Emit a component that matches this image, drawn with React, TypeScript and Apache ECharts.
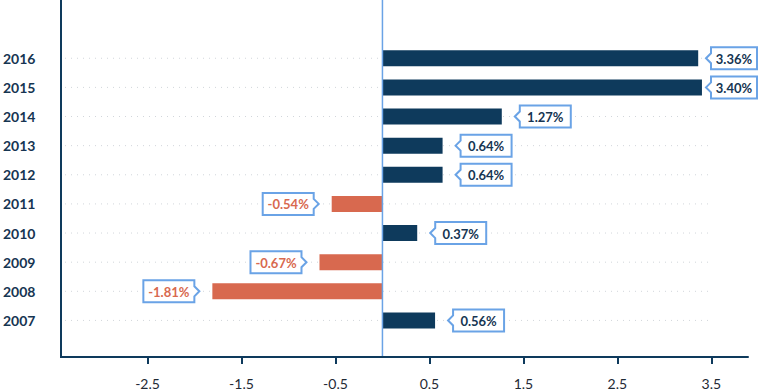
import React, { useEffect, useRef } from 'react';
import * as echarts from 'echarts';

const years = ['2007', '2008', '2009', '2010', '2011', '2012', '2013', '2014', '2015', '2016'];
const values = [0.56, -1.81, -0.67, 0.37, -0.54, 0.64, 0.64, 1.27, 3.40, 3.36];
const tickValues = [-2.5, -1.5, -0.5, 0.5, 1.5, 2.5, 3.5];
const axisMin = -3.41;
const axisMax = 3.89;
const gridLineEnd = 3.5;

const NAVY = '#0e3a5c';
const CORAL = '#d8694f';
const BLUE = '#6aa3e6';
const FONT = 'Lato, sans-serif';

export default function App() {
  const ref = useRef<HTMLDivElement>(null);

  useEffect(() => {
    if (!ref.current) return;
    const chart = echarts.init(ref.current, undefined, { renderer: 'svg' });

    const option: any = {
      animation: false,
      grid: { left: 62, right: 15, top: 43.7, bottom: 54.8, containLabel: false },
      xAxis: {
        type: 'value',
        min: axisMin,
        max: axisMax,
        position: 'bottom',
        offset: 22,
        splitLine: { show: false },
        axisLine: { show: true, onZero: false, lineStyle: { color: NAVY, width: 2 } },
        axisTick: { show: true, customValues: tickValues, length: 7, lineStyle: { color: NAVY, width: 2 } },
        axisLabel: {
          customValues: tickValues,
          margin: 19,
          fontSize: 14,
          fontFamily: FONT,
          color: '#1f2a35',
          formatter: (v: number) => String(v),
        },
      },
      yAxis: {
        type: 'category',
        data: years,
        axisLine: { show: false },
        axisTick: { show: false },
        splitLine: { show: false },
        axisLabel: {
          align: 'left',
          margin: 59,
          fontSize: 14,
          fontWeight: 'bold',
          fontFamily: FONT,
          color: '#163552',
        },
      },
      series: [
        {
          type: 'custom',
          name: 'grid',
          z: 1,
          silent: true,
          encode: { x: 0, y: 1 },
          data: years.map((_, i) => [axisMin, i]),
          renderItem: (params: any, api: any) => {
            const idx = api.value(1);
            const a = api.coord([axisMin, idx]);
            const b = api.coord([gridLineEnd, idx]);
            return {
              type: 'line',
              shape: { x1: a[0] + 3, y1: a[1], x2: b[0], y2: b[1] },
              style: { stroke: '#d2d6db', lineWidth: 1, lineDash: [1, 5] },
            };
          },
        },
        {
          type: 'bar',
          z: 2,
          barWidth: 16,
          data: values.map((v) => ({ value: v, itemStyle: { color: v < 0 ? CORAL : NAVY } })),
        },
        {
          type: 'custom',
          name: 'labels',
          z: 5,
          silent: true,
          clip: false,
          encode: { x: 0, y: 1 },
          data: values.map((v, i) => [v, i]),
          renderItem: (params: any, api: any) => {
            const v = api.value(0);
            const idx = api.value(1);
            const p = api.coord([v, idx]);
            const gap = 13;
            const arrow = 5;
            const h = 22;
            let w = 51;
            const cy = p[1];
            const top = cy - h / 2;
            const bottom = cy + h / 2;
            let points: number[][];
            let boxL: number;
            if (v >= 0) {
              boxL = p[0] + gap + arrow;
              const limit = 757;
              if (boxL + w > limit) {
                w = Math.max(46, limit - boxL);
                boxL = limit - w;
              }
              const tip = boxL - arrow;
              points = [
                [tip, cy], [boxL, cy - 5], [boxL, top], [boxL + w, top],
                [boxL + w, bottom], [boxL, bottom], [boxL, cy + 5],
              ];
            } else {
              const boxR = p[0] - gap - arrow;
              boxL = boxR - w;
              const tip = boxR + arrow;
              points = [
                [tip, cy], [boxR, cy - 5], [boxR, top], [boxL, top],
                [boxL, bottom], [boxR, bottom], [boxR, cy + 5],
              ];
            }
            return {
              type: 'group',
              children: [
                {
                  type: 'polygon',
                  shape: { points },
                  style: { fill: '#ffffff', stroke: BLUE, lineWidth: 2 },
                },
                {
                  type: 'text',
                  style: {
                    x: boxL + w / 2,
                    y: cy + 0.5,
                    text: v.toFixed(2) + '%',
                    align: 'center',
                    verticalAlign: 'middle',
                    fontSize: 13,
                    fontWeight: 'bold',
                    fontFamily: FONT,
                    fill: v < 0 ? CORAL : '#163552',
                  },
                },
              ],
            };
          },
        },
      ],
    };

    chart.setOption(option);

    const zeroX = chart.convertToPixel({ xAxisIndex: 0 }, 0) as number;
    const leftX = chart.convertToPixel({ xAxisIndex: 0 }, axisMin) as number;
    const axisY = 357;
    chart.setOption({
      graphic: [
        {
          type: 'line',
          z: 10,
          silent: true,
          shape: { x1: leftX - 1, y1: 0, x2: leftX - 1, y2: axisY + 1 },
          style: { stroke: NAVY, lineWidth: 2 },
        },
        {
          type: 'line',
          z: 10,
          silent: true,
          shape: { x1: zeroX, y1: 0, x2: zeroX, y2: axisY - 1 },
          style: { stroke: BLUE, lineWidth: 1.5 },
        },
      ],
    });

    return () => chart.dispose();
  }, []);

  return <div ref={ref} style={{ width: 763, height: 390, position: 'absolute', left: 0, top: 0 }} />;
}
